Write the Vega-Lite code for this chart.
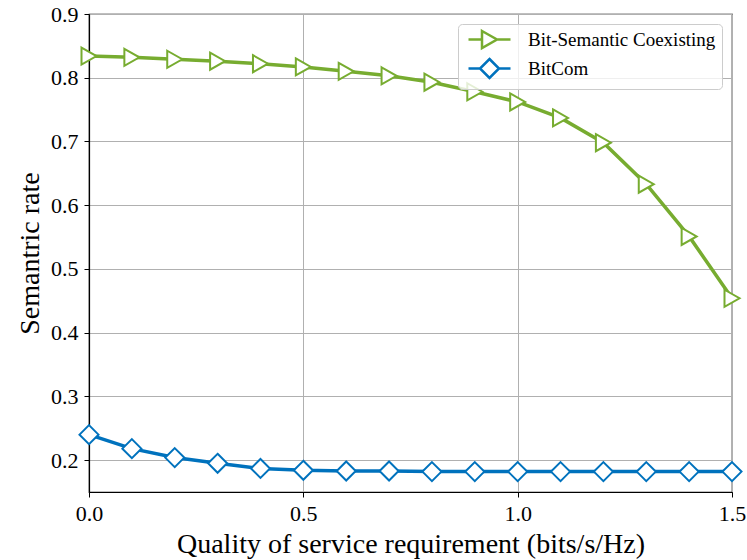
{
  "$schema": "https://vega.github.io/schema/vega-lite/v6.json",
  "width": 643,
  "height": 478,
  "autosize": {"type": "none"},
  "padding": {"left": 89, "top": 14, "right": 15, "bottom": 68},
  "background": "white",
  "data": {
    "values": [
      {"qos": 0.0, "rate": 0.834, "scheme": "Bit-Semantic Coexisting"},
      {"qos": 0.1, "rate": 0.832, "scheme": "Bit-Semantic Coexisting"},
      {"qos": 0.2, "rate": 0.829, "scheme": "Bit-Semantic Coexisting"},
      {"qos": 0.3, "rate": 0.826, "scheme": "Bit-Semantic Coexisting"},
      {"qos": 0.4, "rate": 0.822, "scheme": "Bit-Semantic Coexisting"},
      {"qos": 0.5, "rate": 0.817, "scheme": "Bit-Semantic Coexisting"},
      {"qos": 0.6, "rate": 0.810, "scheme": "Bit-Semantic Coexisting"},
      {"qos": 0.7, "rate": 0.803, "scheme": "Bit-Semantic Coexisting"},
      {"qos": 0.8, "rate": 0.793, "scheme": "Bit-Semantic Coexisting"},
      {"qos": 0.9, "rate": 0.778, "scheme": "Bit-Semantic Coexisting"},
      {"qos": 1.0, "rate": 0.762, "scheme": "Bit-Semantic Coexisting"},
      {"qos": 1.1, "rate": 0.737, "scheme": "Bit-Semantic Coexisting"},
      {"qos": 1.2, "rate": 0.698, "scheme": "Bit-Semantic Coexisting"},
      {"qos": 1.3, "rate": 0.633, "scheme": "Bit-Semantic Coexisting"},
      {"qos": 1.4, "rate": 0.551, "scheme": "Bit-Semantic Coexisting"},
      {"qos": 1.5, "rate": 0.454, "scheme": "Bit-Semantic Coexisting"},
      {"qos": 0.0, "rate": 0.240, "scheme": "BitCom"},
      {"qos": 0.1, "rate": 0.218, "scheme": "BitCom"},
      {"qos": 0.2, "rate": 0.204, "scheme": "BitCom"},
      {"qos": 0.3, "rate": 0.195, "scheme": "BitCom"},
      {"qos": 0.4, "rate": 0.187, "scheme": "BitCom"},
      {"qos": 0.5, "rate": 0.184, "scheme": "BitCom"},
      {"qos": 0.6, "rate": 0.183, "scheme": "BitCom"},
      {"qos": 0.7, "rate": 0.183, "scheme": "BitCom"},
      {"qos": 0.8, "rate": 0.182, "scheme": "BitCom"},
      {"qos": 0.9, "rate": 0.182, "scheme": "BitCom"},
      {"qos": 1.0, "rate": 0.182, "scheme": "BitCom"},
      {"qos": 1.1, "rate": 0.182, "scheme": "BitCom"},
      {"qos": 1.2, "rate": 0.182, "scheme": "BitCom"},
      {"qos": 1.3, "rate": 0.182, "scheme": "BitCom"},
      {"qos": 1.4, "rate": 0.182, "scheme": "BitCom"},
      {"qos": 1.5, "rate": 0.182, "scheme": "BitCom"}
    ]
  },
  "encoding": {
    "x": {
      "field": "qos",
      "type": "quantitative",
      "scale": {"domain": [0, 1.5], "nice": false, "zero": false},
      "axis": {
        "values": [0, 0.5, 1, 1.5],
        "format": ".1f",
        "title": "Quality of service requirement (bits/s/Hz)",
        "labelFont": "Liberation Serif",
        "labelFontSize": 22,
        "labelColor": "black",
        "labelPadding": 6,
        "labelFlush": false,
        "titleFont": "Liberation Serif",
        "titleFontSize": 28,
        "titleFontWeight": "normal",
        "titleColor": "black",
        "titlePadding": 6
      }
    },
    "y": {
      "field": "rate",
      "type": "quantitative",
      "scale": {"domain": [0.15, 0.9], "nice": false, "zero": false},
      "axis": {
        "values": [0.2, 0.3, 0.4, 0.5, 0.6, 0.7, 0.8, 0.9],
        "format": ".1f",
        "title": "Semantric rate",
        "labelFont": "Liberation Serif",
        "labelFontSize": 22,
        "labelColor": "black",
        "labelPadding": 6,
        "labelFlush": false,
        "titleFont": "Liberation Serif",
        "titleFontSize": 28,
        "titleFontWeight": "normal",
        "titleColor": "black",
        "titlePadding": 6
      }
    }
  },
  "layer": [
    {
      "mark": {"type": "line", "strokeWidth": 3.5},
      "encoding": {
        "color": {
          "field": "scheme",
          "type": "nominal",
          "scale": {"domain": ["Bit-Semantic Coexisting", "BitCom"], "range": ["#77AC30", "#0072BD"]},
          "legend": null
        }
      }
    },
    {
      "mark": {"type": "point", "filled": false, "fill": "white", "fillOpacity": 1, "opacity": 1, "strokeWidth": 2, "size": 400},
      "encoding": {
        "color": {
          "field": "scheme",
          "type": "nominal",
          "scale": {"domain": ["Bit-Semantic Coexisting", "BitCom"], "range": ["#77AC30", "#0072BD"]},
          "legend": null
        },
        "shape": {
          "field": "scheme",
          "type": "nominal",
          "scale": {
            "domain": ["Bit-Semantic Coexisting", "BitCom"],
            "range": ["M-0.75,-0.85L0.75,0L-0.75,0.85Z", "M0,-0.95L0.95,0L0,0.95L-0.95,0Z"]
          },
          "legend": null
        }
      }
    },
    {
      "transform": [{"filter": "false"}],
      "mark": {"type": "point", "filled": false, "opacity": 1, "strokeWidth": 2.5},
      "encoding": {
        "color": {
          "field": "scheme",
          "type": "nominal",
          "scale": {"domain": ["Bit-Semantic Coexisting", "BitCom"], "range": ["#77AC30", "#0072BD"]},
          "legend": {"title": null}
        },
        "shape": {
          "field": "scheme",
          "type": "nominal",
          "scale": {
            "domain": ["Bit-Semantic Coexisting", "BitCom"],
            "range": [
              "M-4.2,0H-1.5M1.5,0H4.2M-1.5,-1.7L1.5,0L-1.5,1.7Z",
              "M-4.2,0H-1.9M1.9,0H4.2M0,-1.9L1.9,0L0,1.9L-1.9,0Z"
            ]
          },
          "legend": {"title": null}
        }
      }
    }
  ],
  "resolve": {"scale": {"color": "independent", "shape": "independent"}},
  "config": {
    "view": {"stroke": "black", "strokeWidth": 1.2},
    "axis": {
      "domainColor": "black",
      "domainWidth": 1.2,
      "tickColor": "black",
      "tickSize": 5,
      "tickWidth": 1,
      "gridColor": "#b0b0b0",
      "gridWidth": 1
    },
    "legend": {
      "orient": "top-right",
      "offset": 10,
      "padding": 6,
      "labelFont": "Liberation Serif",
      "labelFontSize": 19,
      "labelColor": "black",
      "labelOffset": 29,
      "symbolOffset": 16,
      "symbolSize": 100,
      "symbolStrokeWidth": 2.5,
      "rowPadding": 1,
      "fillColor": "rgba(255,255,255,0.8)",
      "strokeColor": "#cccccc",
      "cornerRadius": 4,
      "labelLimit": 400
    }
  }
}
